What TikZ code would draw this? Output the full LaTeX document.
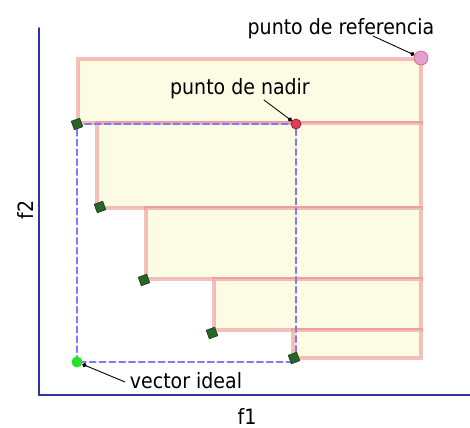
\documentclass[tikz,border=0pt]{standalone}
\usepackage{fontspec}
\setmainfont{DejaVu Sans Condensed}
\usepackage{tikz}
\usetikzlibrary{arrows.meta}
\usetikzlibrary{positioning}

\definecolor{boxfill}{RGB}{252,252,228}
\definecolor{boxline}{RGB}{236,130,130}
\definecolor{axisblue}{RGB}{50,50,160}
\definecolor{dashblue}{RGB}{128,120,255}
\definecolor{solgreen}{RGB}{40,100,40}
\definecolor{nadirred}{RGB}{225,60,90}
\definecolor{refpink}{RGB}{225,160,205}
\definecolor{idealgreen}{RGB}{40,225,40}

\tikzset{
  slice/.style={fill=boxfill,draw=boxline,draw opacity=0.5,line width=2.3pt},
  axisline/.style={draw=axisblue,line width=0.9pt},
  nadirbox/.style={draw=dashblue,line width=1.3pt,dash pattern=on 3.4pt off 2.2pt},
  solpt/.style={draw=solgreen!70!black,fill=solgreen,minimum size=0.18cm,inner sep=0pt,rotate=20},
  nadirdot/.style={circle,draw=nadirred!60!black,fill=nadirred,minimum size=0.2cm,inner sep=0pt},
  refdot/.style={circle,draw=nadirred!80,fill=refpink,minimum size=0.28cm,inner sep=0pt},
  idealdot/.style={circle,fill=idealgreen,minimum size=0.22cm,inner sep=0pt},
  leader/.style={black,line width=0.5pt,-{Circle[length=2.5pt]}},
  lbl/.style={font=\fontsize{12}{14}\selectfont,inner sep=0pt,anchor=base}
}

\begin{document}
\begin{tikzpicture}[x=0.02cm,y=-0.02cm,line cap=round]
\useasboundingbox (0,0) rectangle (470,428);

  % points of the front
  \coordinate (p1) at (77,124);
  \coordinate (p2) at (100,207);
  \coordinate (p3) at (144,280);
  \coordinate (p4) at (212,333);
  \coordinate (p5) at (294,358);
  \coordinate (pref) at (421,58);
  \coordinate (pnadir) at (296,124);
  \coordinate (pideal) at (77,362);

  % slices
  \draw [slice] (78,59) rectangle (421,123);
  \draw [slice] (97,123) rectangle (421,208);
  \draw [slice] (146,208) rectangle (421,279);
  \draw [slice] (214,279) rectangle (421,330);
  \draw [slice] (293,330) rectangle (421,358);

  % axes
  \draw [axisline] (39,28) -- (39,395) -- (470,395);

  % ideal / nadir box
  \draw [nadirbox] (pideal) rectangle (pnadir);

  \node [solpt] (sol1) at (p1) {};
  \node [solpt] (sol2) at (p2) {};
  \node [solpt] (sol3) at (p3) {};
  \node [solpt] (sol4) at (p4) {};
  \node [solpt] (sol5) at (p5) {};

  \node [nadirdot] (nadirpt) at (pnadir) {};
  \node [refdot] (refpt) at (pref) {};
  \node [idealdot] (idealpt) at (pideal) {};

  \node [lbl] (lref) at (341,35) {punto de referencia};
  \node [lbl] (lnadir) at (240,95) {punto de nadir};
  \node [lbl] (lideal) at (186,389) {vector ideal};

  \coordinate (lrefend) at (373,36);
  \coordinate (lnadirend) at (264,100);
  \coordinate (lidealend) at (125,382);
  \draw [leader] (lrefend) -- (refpt);
  \draw [leader] (lnadirend) -- (nadirpt);
  \draw [leader] (lidealend) -- (idealpt);

  \node [lbl] (xlab) at (247,425) {f1};
  \node [lbl,rotate=90] (ylab) at (33,210) {f2};

\end{tikzpicture}
\end{document}
